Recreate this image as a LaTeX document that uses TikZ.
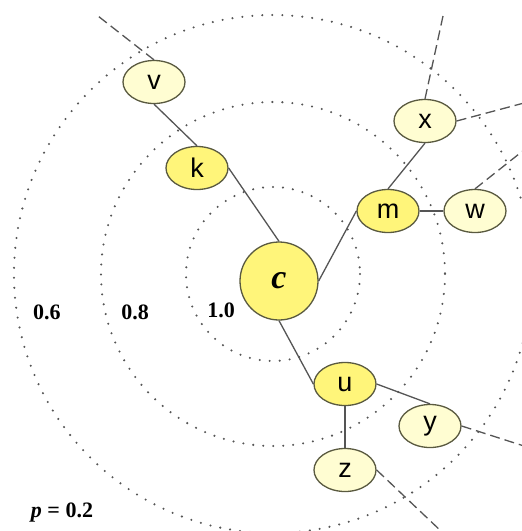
\documentclass[tikz,border=0pt]{standalone}
\usepackage{fontspec}
\setmainfont{Liberation Serif}
\newfontfamily\letterfont{Liberation Sans}
\usetikzlibrary{shapes.geometric}
\definecolor{nodeline}{HTML}{5A5A40}
\definecolor{strongfill}{HTML}{FFF57A}
\definecolor{weakfill}{HTML}{FFFDD2}
\definecolor{linkgray}{HTML}{555555}

\begin{document}
\begin{tikzpicture}[
  x=1pt,y=-1pt,
  vert/.style={ellipse,draw=nodeline,line width=1.3pt,inner sep=0pt,
               minimum width=62pt,minimum height=43pt,
               font=\letterfont\fontsize{27}{27}\selectfont},
  strong/.style={vert,fill=strongfill},
  weak/.style={vert,fill=weakfill},
  link/.style={draw=linkgray,line width=1.3pt},
  ghost/.style={draw=linkgray,line width=1.3pt,dash pattern=on 10pt off 5pt},
  ring/.style={draw=linkgray,line width=2.3pt,line cap=round,
               dash pattern=on 0pt off 10pt},
  level/.style={font=\bfseries\fontsize{22}{22}\selectfont}
]
\useasboundingbox (0,0) rectangle (522,531);
\clip (0,0) rectangle (522,531);
\fill[white] (0,0) rectangle (522,531);

% threshold rings
\coordinate (o) at (273,274);
\draw[ring] (o) circle[radius=87];
\draw[ring] (o) circle[radius=172];
\draw[ring] (o) circle[radius=259];

\node[level] (l06) at (47,312) {0.6};
\node[level] (l08) at (135,312) {0.8};
\node[level] (l10) at (221,310) {1.0};
\node[level] (prob) at (62,513) {{\itshape p} = 0.2};

% vertices
\node[circle,draw=nodeline,line width=1.3pt,fill=strongfill,minimum size=78pt,
      inner sep=0pt,font=\bfseries\itshape\fontsize{34}{34}\selectfont]
      (c) at (279,281) {c};
\node[strong] (k) at (197,168) {k};
\node[weak]   (v) at (154,82)  {v};
\node[strong] (m) at (388,211) {m};
\node[weak]   (x) at (425,121) {x};
\node[weak]   (w) at (475,211) {w};
\node[strong] (u) at (345,384) {u};
\node[weak]   (y) at (430,426) {y};
\node[weak]   (z) at (345,470) {z};

% links
\draw[link] (v.south) -- (k.north);
\draw[link] (k.east) -- (c.north);
\draw[link] (c.east) -- (m.west);
\draw[link] (m.north) -- (x.south);
\draw[link] (m.east) -- (w.west);
\draw[link] (c.south) -- (u.west);
\draw[link] (u.east) -- (y.north);
\draw[link] (u.south) -- (z.north);

% links leaving the picture
\coordinate (vout) at (98,16);
\coordinate (xout1) at (443,16);
\coordinate (xout2) at (524,103);
\coordinate (wout) at (524,150);
\coordinate (yout) at (524,446);
\coordinate (zout) at (442,532);
\draw[ghost] (v.north) -- (vout);
\draw[ghost] (x.north) -- (xout1);
\draw[ghost] (x.east) -- (xout2);
\draw[ghost] (w.north) -- (wout);
\draw[ghost] (y.east) -- (yout);
\draw[ghost] (z.east) -- (zout);
\end{tikzpicture}
\end{document}
